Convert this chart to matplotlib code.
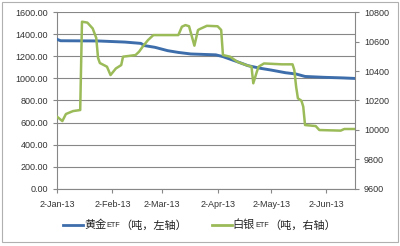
import datetime as dt
import matplotlib
matplotlib.use("Agg")
import matplotlib.pyplot as plt
from matplotlib.lines import Line2D
from matplotlib.patches import Rectangle

plt.rcParams['font.family'] = ['Liberation Sans', 'Noto Sans CJK SC', 'DejaVu Sans']

#黄金ETF持仓（吨，左轴）
gold_dates = ['2013-01-02', '2013-01-04', '2013-01-25', '2013-02-09', '2013-02-18',
              '2013-02-20', '2013-02-26', '2013-03-05', '2013-03-11', '2013-03-18',
              '2013-04-01', '2013-04-05', '2013-04-13', '2013-04-19', '2013-04-26',
              '2013-05-02', '2013-05-10', '2013-05-16', '2013-05-21', '2013-06-01',
              '2013-06-11', '2013-06-18']
gold_values = [1355, 1342, 1340, 1330, 1318, 1298, 1282, 1252, 1236, 1222,
               1214, 1198, 1152, 1116, 1092, 1076, 1052, 1040, 1018, 1010,
               1005, 1000]

#白银ETF持仓（吨，右轴）
silver_dates = ['2013-01-02', '2013-01-05', '2013-01-07', '2013-01-11', '2013-01-15',
                '2013-01-16', '2013-01-19', '2013-01-22', '2013-01-24', '2013-01-25',
                '2013-01-26', '2013-01-30', '2013-02-01', '2013-02-04', '2013-02-07',
                '2013-02-08', '2013-02-15', '2013-02-17', '2013-02-19', '2013-02-22',
                '2013-02-25', '2013-03-11', '2013-03-13', '2013-03-15', '2013-03-17',
                '2013-03-20', '2013-03-22', '2013-03-23', '2013-03-27', '2013-04-02',
                '2013-04-04', '2013-04-05', '2013-04-09', '2013-04-13', '2013-04-18',
                '2013-04-21', '2013-04-22', '2013-04-24', '2013-04-25', '2013-04-28',
                '2013-05-08', '2013-05-14', '2013-05-15', '2013-05-16', '2013-05-17',
                '2013-05-19', '2013-05-20', '2013-05-21', '2013-05-27', '2013-05-29',
                '2013-06-10', '2013-06-12', '2013-06-18']
silver_values = [10090, 10060, 10108, 10128, 10135,
                 10736, 10730, 10690, 10625, 10490,
                 10455, 10430, 10373, 10418, 10441,
                 10498, 10509, 10532, 10566, 10611,
                 10645, 10645, 10702, 10713, 10705,
                 10573, 10679, 10686, 10708, 10705,
                 10680, 10509, 10498, 10464, 10441,
                 10430, 10317, 10396, 10430, 10452,
                 10446, 10446, 10407, 10294, 10215,
                 10198, 10158, 10033, 10026, 9999,
                 9995, 10006, 10006]

tick_dates = ['2013-01-02', '2013-02-02', '2013-03-02', '2013-04-02', '2013-05-02', '2013-06-02']
tick_labels = ['2-Jan-13', '2-Feb-13', '2-Mar-13', '2-Apr-13', '2-May-13', '2-Jun-13']


def to_dates(lst):
    return [dt.datetime.strptime(s, '%Y-%m-%d') for s in lst]


GRID = '#878787'
TXT = '#333333'
GOLD_C = '#3d6eab'
SILVER_C = '#9bbb59'

fig = plt.figure(figsize=(4.0, 2.46), dpi=100)
fig.patches.append(Rectangle((0.004, 0.016), 0.991, 0.976, transform=fig.transFigure,
                             fill=False, edgecolor='#b0b0b0', linewidth=0.8))
ax = fig.add_axes([0.1425, 0.233, 0.745, 0.717])
ax2 = ax.twinx()

ax.plot(to_dates(gold_dates), gold_values, color=GOLD_C, linewidth=2.1, zorder=3)
ax2.plot(to_dates(silver_dates), silver_values, color=SILVER_C, linewidth=1.8, zorder=3)

ax.set_xlim(dt.datetime(2013, 1, 2), dt.datetime(2013, 6, 18))
ax.set_ylim(0, 1600)
ax2.set_ylim(9600, 10800)
ax.set_yticks(range(0, 1601, 200))
ax.set_yticklabels(['%.2f' % v for v in range(0, 1601, 200)])
ax2.set_yticks(range(9600, 10801, 200))
ax.set_xticks(to_dates(tick_dates))
ax.set_xticklabels(tick_labels)

ax.yaxis.grid(True, color=GRID, linewidth=0.8)
ax.set_axisbelow(True)
for a in (ax, ax2):
    for s in a.spines.values():
        s.set_visible(False)
    a.tick_params(labelsize=6.5, colors=GRID, labelcolor=TXT, length=3, width=0.8, pad=3.5)
ax.tick_params(axis='x', pad=5)
ax.spines['left'].set_visible(True)
ax.spines['bottom'].set_visible(True)
ax2.spines['right'].set_visible(True)
for s in (ax.spines['left'], ax.spines['bottom'], ax2.spines['right']):
    s.set_color(GRID)
    s.set_linewidth(0.8)

#图例（ETF字样较小）
cjk = ['Noto Sans CJK SC', 'DejaVu Sans']
def legend_item(x0, x1, y, color, head, tail):
    fig.add_artist(Line2D([x0, x1], [y, y], transform=fig.transFigure, color=color, linewidth=2.0))
    t1 = fig.text(x1 + 0.002, y, head, family=cjk, fontsize=8, va='center', ha='left', color='#222222')
    t2 = ax.annotate('ETF', xy=(1, 0.5), xycoords=t1, va='center', ha='left',
                     fontsize=5.2, family='Liberation Sans', color='#222222', annotation_clip=False)
    ax.annotate(tail, xy=(1, 0.5), xycoords=t2, va='center', ha='left',
                fontsize=8, family=cjk, color='#222222', annotation_clip=False)

legend_item(0.158, 0.208, 0.085, GOLD_C, '黄金', '（吨，左轴）')
legend_item(0.53, 0.58, 0.085, SILVER_C, '白银', '（吨，右轴）')

fig.savefig('out.png', dpi=100)
